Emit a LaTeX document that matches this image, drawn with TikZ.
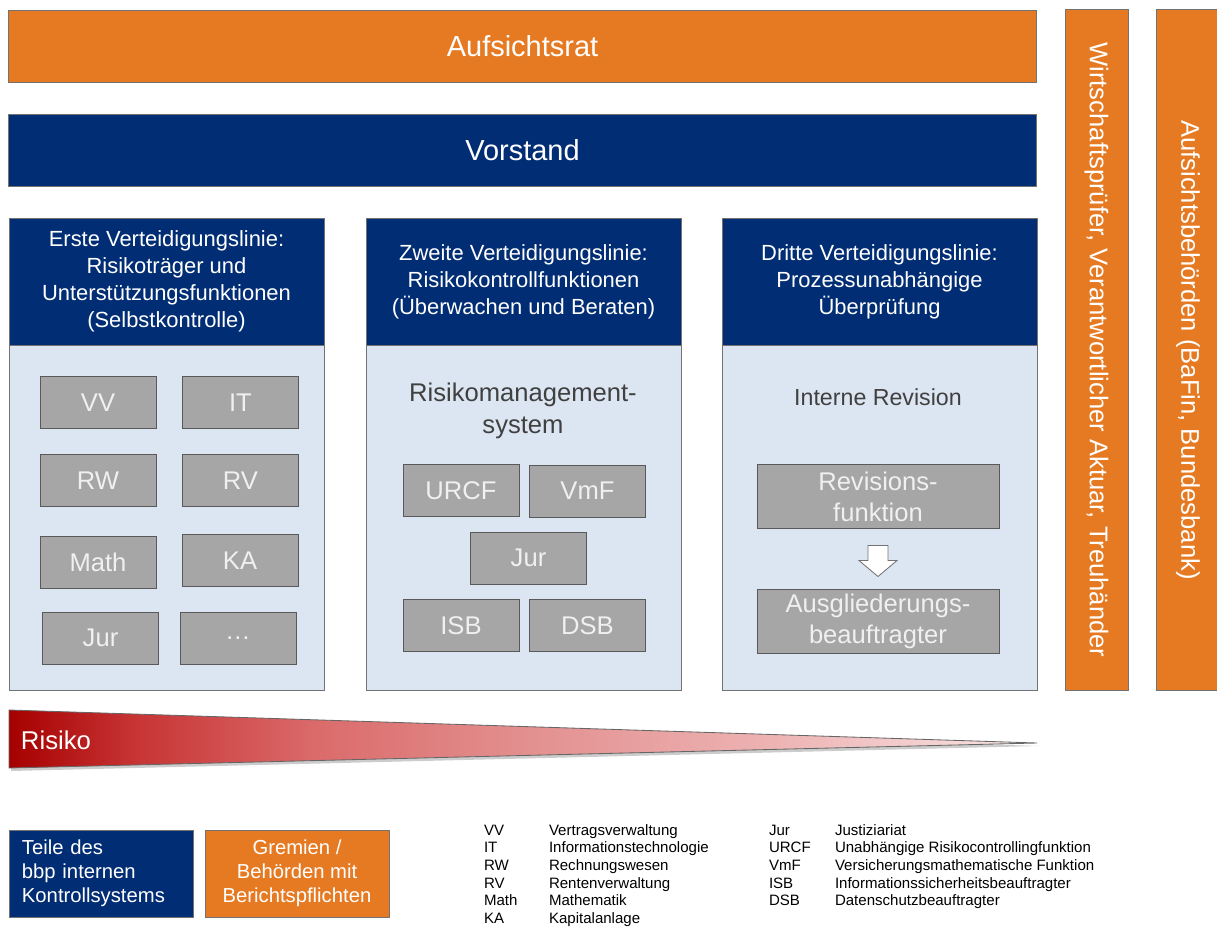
\documentclass[tikz,border=0pt]{standalone}
\usepackage{fontspec}
\setmainfont{Liberation Sans}
\usetikzlibrary{calc}

\definecolor{bbporange}{RGB}{230,122,34}
\definecolor{bbpnavy}{RGB}{0,45,115}
\definecolor{bodyblue}{RGB}{220,230,242}
\definecolor{unitgray}{RGB}{166,166,166}

% Verlauf fuer den Risiko-Keil
\pgfdeclarehorizontalshading{risikoshade}{100bp}{
  rgb(0bp)=(0.65,0,0); rgb(25bp)=(0.65,0,0); rgb(31bp)=(0.78,0.2,0.2);
  rgb(40bp)=(0.86,0.42,0.42); rgb(50bp)=(0.89,0.56,0.56); rgb(62bp)=(0.93,0.70,0.70);
  rgb(75bp)=(0.98,0.90,0.90); rgb(100bp)=(0.98,0.90,0.90)}

\begin{document}
\begin{tikzpicture}[x=0.025cm, y=-0.025cm,
    every node/.style={inner sep=0pt, outer sep=0pt},
    band/.style={draw=black!55, line width=0.6pt, minimum width=25.675cm, minimum height=1.8cm,
      text=white, font=\fontsize{20.6}{24}\selectfont},
    colhead/.style={draw=black!55, line width=0.6pt, fill=bbpnavy, minimum width=7.875cm,
      minimum height=3.175cm, text=white, align=center, font=\fontsize{15.6}{19.2}\selectfont},
    colbody/.style={draw=black!55, line width=0.6pt, fill=bodyblue, minimum width=7.875cm,
      minimum height=8.625cm},
    unit/.style={draw=black!65, line width=0.6pt, fill=unitgray, minimum width=2.9cm,
      minimum height=1.3cm, text=white!94!black, font=\fontsize{18.2}{22}\selectfont},
    wideunit/.style={unit, minimum width=6.05cm, minimum height=1.6cm, align=center},
    sidebar/.style={draw=black!55, line width=0.6pt, fill=bbporange, rotate=-90,
      minimum width=17cm, minimum height=1.575cm, text=white, font=\fontsize{18.2}{22}\selectfont},
    legendbox/.style={draw=black!55, line width=0.6pt, minimum width=4.6cm, minimum height=2.175cm,
      text=white, font=\fontsize{14.4}{16.9}\selectfont},
    legendtext/.style={anchor=north west, font=\fontsize{10.7}{12.5}\selectfont}
  ]
  \useasboundingbox (0,0) rectangle (1217,927);

  % Gremien oben
  \node[band, fill=bbporange] (aufsichtsrat) at (522.5,46) {Aufsichtsrat};
  \node[band, fill=bbpnavy] (vorstand) at (522.5,150) {Vorstand};

  % Drei Verteidigungslinien
  \node[colhead] (head1) at (166.5,281.5) {Erste Verteidigungslinie:\\Risikoträger und\\Unterstützungsfunktionen\\(Selbstkontrolle)};
  \node[colhead] (head2) at (523.5,281.5) {Zweite Verteidigungslinie:\\Risikokontrollfunktionen\\(Überwachen und Beraten)};
  \node[colhead] (head3) at (879.5,281.5) {Dritte Verteidigungslinie:\\Prozessunabhängige\\Überprüfung};
  \node[colbody] (body1) at (166.5,517.5) {};
  \node[colbody] (body2) at (523.5,517.5) {};
  \node[colbody] (body3) at (879.5,517.5) {};

  % Erste Linie
  \node[unit] (vv) at (98,402.5) {VV};
  \node[unit] (it) at (240.5,402.5) {IT};
  \node[unit] (rw) at (98,480.5) {RW};
  \node[unit] (rv) at (240.5,480.5) {RV};
  \node[unit] (math) at (98,562.5) {Math};
  \node[unit] (ka) at (240,560.5) {KA};
  \node[unit] (jur1) at (100.5,638) {Jur};
  \node[unit] (more) at (238,638) {…};

  % Zweite Linie
  \node[align=center, text=black!75, font=\fontsize{18.2}{22.6}\selectfont] (rms) at (523,411) {Risikomanagement-\\system};
  \node[unit] (urcf) at (461,490.5) {URCF};
  \node[unit] (vmf) at (587.5,491) {VmF};
  \node[unit] (jur2) at (528.5,558) {Jur};
  \node[unit] (isb) at (461,625.5) {ISB};
  \node[unit] (dsb) at (587.5,625.5) {DSB};

  % Dritte Linie
  \node[text=black!75, font=\fontsize{16.5}{20}\selectfont] (irev) at (878,397) {Interne Revision};
  \node[wideunit] (rev) at (878,496.5) {Revisions-\\funktion};
  \node[wideunit] (ausg) at (878,621) {Ausgliederungs-\\beauftragter};
  \path (rev.south) ++(0,17) coordinate (arrtop);
  \draw[black!55, fill=white, line width=0.6pt] (arrtop) ++(-10,0) -- ++(20,0) -- ++(0,15)
    -- ++(9,0) -- ++(-19,16) -- ++(-19,-16) -- ++(9,0) -- cycle;

  % Externe Stellen
  \node[sidebar] (wp) at (1096.5,350) {Wirtschaftsprüfer, Verantwortlicher Aktuar, Treuhänder};
  \node[sidebar] (aufsb) at (1188,350) {Aufsichtsbehörden (BaFin, Bundesbank)};

  % Risiko-Keil
  \coordinate (rtop) at (9,710);
  \coordinate (rtip) at (1037,743);
  \coordinate (rbot) at (9,768);
  \fill[black, opacity=0.2] ($(rtop)+(2,3)$) -- ($(rtip)+(2,3)$) -- ($(rbot)+(2,3)$) -- cycle;
  \shadedraw[shading=risikoshade, draw=black!60, line width=0.6pt] (rtop) -- (rtip) -- (rbot) -- cycle;
  \node[anchor=west, text=white, font=\fontsize{18.3}{22}\selectfont] (risiko) at (21,740) {Risiko};

  % Legende
  \node[legendbox, fill=bbpnavy, align=left, text width=3.95cm, inner xsep=0.325cm] (legkontroll) at (101,873.5)
    {Teile des\\bbp internen\\Kontrollsystems};
  \node[legendbox, fill=bbporange, align=center] (leggremien) at (297,873.5)
    {Gremien /\\Behörden mit\\Berichtspflichten};
  \node[legendtext] (legendleft) at (484,823) {\begin{tabular}{@{}p{1.625cm}@{}l@{}}
    VV & Vertragsverwaltung\\
    IT & Informationstechnologie\\
    RW & Rechnungswesen\\
    RV & Rentenverwaltung\\
    Math & Mathematik\\
    KA & Kapitalanlage
  \end{tabular}};
  \node[legendtext] (legendright) at (769,823) {\begin{tabular}{@{}p{1.65cm}@{}l@{}}
    Jur & Justiziariat\\
    URCF & Unabhängige Risikocontrollingfunktion\\
    VmF & Versicherungsmathematische Funktion\\
    ISB & Informationssicherheitsbeauftragter\\
    DSB & Datenschutzbeauftragter
  \end{tabular}};
\end{tikzpicture}
\end{document}
